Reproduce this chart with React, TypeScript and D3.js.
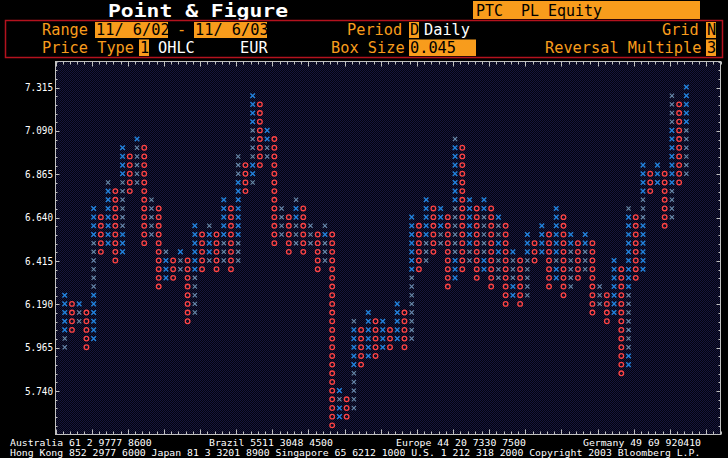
import React from "react";
import * as d3 from "d3";

// ---- data ----
const boxSize = 0.045;
const basePrice = 5.74;
const colHigh = [
  6.235, 6.19, 6.19, 6.145, 6.685, 6.64, 6.82, 6.775, 7.0, 6.955,
  7.045, 7.0, 6.73, 6.685, 6.46, 6.415, 6.46, 6.415, 6.595, 6.55,
  6.595, 6.55, 6.73, 6.685, 6.955, 6.91, 7.27, 7.225, 7.09, 7.045,
  6.685, 6.64, 6.73, 6.685, 6.595, 6.55, 6.595, 6.55, 5.74, 5.695,
  6.1, 6.055, 6.145, 6.1, 6.1, 6.055, 6.19, 6.145, 6.64, 6.595,
  6.73, 6.685, 6.685, 6.64, 7.045, 7.0, 6.73, 6.685, 6.73, 6.685,
  6.64, 6.595, 6.46, 6.415, 6.55, 6.505, 6.595, 6.55, 6.685, 6.64,
  6.55, 6.505, 6.55, 6.505, 6.28, 6.235, 6.415, 6.37, 6.685, 6.64,
  6.91, 6.865, 6.91, 6.865, 7.27, 7.225, 7.315,
];
const colLow = [
  5.965, 6.055, 6.1, 5.965, 6.01, 6.46, 6.505, 6.415, 6.46, 6.775,
  6.82, 6.505, 6.55, 6.28, 6.325, 6.325, 6.37, 6.1, 6.145, 6.37,
  6.415, 6.37, 6.415, 6.37, 6.415, 6.775, 6.82, 6.91, 6.955, 6.505,
  6.55, 6.46, 6.505, 6.46, 6.505, 6.37, 6.415, 5.56, 5.605, 5.605,
  5.65, 5.875, 5.92, 5.92, 5.965, 5.965, 6.01, 5.965, 6.01, 6.37,
  6.415, 6.46, 6.505, 6.28, 6.325, 6.37, 6.415, 6.325, 6.37, 6.28,
  6.325, 6.19, 6.235, 6.19, 6.235, 6.415, 6.46, 6.28, 6.325, 6.235,
  6.28, 6.325, 6.37, 6.145, 6.19, 6.1, 6.145, 5.83, 5.875, 6.325,
  6.37, 6.775, 6.82, 6.595, 6.64, 6.82, 6.865,
];
// X boxes drawn in the paler shade: [column, from price, to price]
const paleX = [
  [0, 5.965, 6.01], [2, 6.1, 6.145], [4, 6.28, 6.505], [6, 6.82, 6.82],
  [8, 6.595, 6.82], [10, 6.82, 7.0], [12, 6.55, 6.73], [14, 6.46, 6.46],
  [16, 6.37, 6.415], [18, 6.145, 6.325], [20, 6.595, 6.595], [20, 6.415, 6.415],
  [22, 6.415, 6.505], [24, 6.865, 6.955], [24, 6.415, 6.505], [26, 6.955, 7.09],
  [26, 6.82, 6.82], [28, 6.955, 7.0], [30, 6.55, 6.685], [32, 6.73, 6.73],
  [32, 6.505, 6.595], [34, 6.505, 6.595], [36, 6.595, 6.595], [36, 6.415, 6.505],
  [38, 5.695, 5.695], [40, 6.1, 6.1], [40, 5.65, 5.83], [48, 6.01, 6.325],
  [50, 6.415, 6.505], [52, 6.505, 6.55], [54, 7.045, 7.045], [54, 6.46, 6.685],
  [56, 6.415, 6.46], [58, 6.46, 6.64], [60, 6.55, 6.595], [60, 6.325, 6.415],
  [62, 6.325, 6.415], [64, 6.235, 6.415], [68, 6.415, 6.415], [70, 6.28, 6.46],
  [72, 6.37, 6.46], [74, 6.19, 6.28], [78, 6.685, 6.685], [78, 5.965, 6.235],
  [80, 6.64, 6.73], [84, 7.135, 7.27], [84, 6.64, 6.775], [86, 6.865, 7.09],
];
const colType = colHigh.map((_, i) => (i % 2 === 0 ? "X" : "O"));
const yTickLabels = ["5.740", "5.965", "6.190", "6.415", "6.640", "6.865", "7.090", "7.315"];
const yDomain = [5.515, 7.45];
const colDomain = [-1, 91];

const headerRow1 = [
  { t: "Range", x: 42, c: "o" },
  { t: "11/ 6/02", x: 96, c: "b", bx: [95, 168] },
  { t: "-", x: 177, c: "o" },
  { t: "11/ 6/03", x: 195, c: "b", bx: [194, 267] },
  { t: "Period", x: 347, c: "o" },
  { t: "D", x: 410, c: "b", bx: [409, 419] },
  { t: "Daily", x: 424, c: "w" },
  { t: "Grid", x: 662, c: "o" },
  { t: "N", x: 707, c: "b", bx: [706, 716] },
];
const headerRow2 = [
  { t: "Price Type", x: 42, c: "o" },
  { t: "1", x: 140, c: "b", bx: [139, 149] },
  { t: "OHLC", x: 158, c: "w" },
  { t: "EUR", x: 240, c: "w" },
  { t: "Box Size", x: 331, c: "o" },
  { t: "0.045", x: 410, c: "b", bx: [409, 476] },
  { t: "Reversal Multiple", x: 545, c: "o" },
  { t: "3", x: 707, c: "b", bx: [706, 716] },
];
const footer1 = [
  { t: "Australia 61 2 9777 8600", x: 10 },
  { t: "Brazil 5511 3048 4500", x: 209 },
  { t: "Europe 44 20 7330 7500", x: 396 },
  { t: "Germany 49 69 920410", x: 583 },
];
const footer2 =
  "Hong Kong 852 2977 6000 Japan 81 3 3201 8900 Singapore 65 6212 1000 U.S. 1 212 318 2000 Copyright 2003 Bloomberg L.P.";

const ORANGE = "#f89c1c";
const MONO = "'DejaVu Sans Mono', monospace";
const XBLUE = "#2282dc";
const XPALE = "#6a8cad";
const ORED = "#ff4444";
const AXIS = "#c0c0c0";

export default function App() {
  const x = d3.scaleLinear().domain(colDomain).range([55.5, 720.5]);
  const y = d3.scaleLinear().domain(yDomain).range([434.5, 61.5]);
  const rowOf = (p: number) => Math.round((p - basePrice) / boxSize);

  const isPale = (i: number, r: number) =>
    paleX.some((d) => d[0] === i && r >= rowOf(d[1]) && r <= rowOf(d[2]));

  const marks: any[] = [];
  colType.forEach((tp, i) => {
    const lo = rowOf(colLow[i]);
    const hi = rowOf(colHigh[i]);
    for (let r = lo; r <= hi; r++) {
      const cx = x(i) + 2;
      const cy = y(basePrice + r * boxSize) - 0.5;
      if (tp === "X") {
        const pale = isPale(i, r);
        const s = pale ? 2.1 : 2.3;
        marks.push(
          <path
            key={`m${i}_${r}`}
            d={`M${cx - s},${cy - s}L${cx + s},${cy + s}M${cx - s},${cy + s}L${cx + s},${cy - s}`}
            stroke={pale ? XPALE : XBLUE}
            strokeWidth={pale ? 1.1 : 1.4}
          />
        );
      } else {
        marks.push(
          <circle key={`m${i}_${r}`} cx={cx} cy={cy} r={2.3} fill="none" stroke={ORED} strokeWidth={1.3} />
        );
      }
    }
  });

  const ticks: any[] = [];
  const rMin = rowOf(yDomain[0]);
  const rMax = rowOf(yDomain[1]);
  for (let r = rMin; r <= rMax; r++) {
    const yy = Math.round(y(basePrice + r * boxSize)) + 0.5;
    const major = r % 5 === 0;
    const len = major ? 4 : 2;
    ticks.push(<line key={`yl${r}`} x1={55.5} x2={55.5 + len} y1={yy} y2={yy} stroke={AXIS} />);
    ticks.push(<line key={`yr${r}`} x1={720.5} x2={720.5 - len} y1={yy} y2={yy} stroke={AXIS} />);
  }
  for (let k = colDomain[0]; k <= colDomain[1]; k++) {
    const xx = Math.round(x(k)) + 0.5;
    const major = (k + 100) % 5 === 4;
    const len = major ? 5 : 3;
    ticks.push(<line key={`xt${k}`} x1={xx} x2={xx} y1={61.5} y2={61.5 + len} stroke={AXIS} />);
    ticks.push(<line key={`xb${k}`} x1={xx} x2={xx} y1={434.5} y2={434.5 - len} stroke={AXIS} />);
  }

  const headerText = (row: any[], base: number, boxTop: number, boxH: number) =>
    row.map((h, i) => (
      <g key={`h${base}_${i}`}>
        {h.bx && <rect x={h.bx[0]} y={boxTop} width={h.bx[1] - h.bx[0]} height={boxH} fill={ORANGE} />}
        <text
          x={h.x}
          y={base}
          fontFamily={MONO}
          fontSize={15}
          textLength={h.t.length * 9.2}
          lengthAdjust="spacingAndGlyphs"
          style={{ whiteSpace: "pre" }}
          fill={h.c === "o" ? ORANGE : h.c === "w" ? "#ffffff" : "#000000"}
        >
          {h.t}
        </text>
      </g>
    ));

  return (
    <svg
      width={728}
      height={458}
      style={{ position: "absolute", left: 0, top: 0, display: "block", background: "#000" }}
    >
      <defs>
        <pattern id="dither" x={0} y={0} width={2} height={2} patternUnits="userSpaceOnUse">
          <rect x={0} y={0} width={2} height={2} fill="#03030f" />
          <rect x={0} y={0} width={1} height={1} fill="#16163c" />
          <rect x={1} y={1} width={1} height={1} fill="#16163c" />
        </pattern>
      </defs>
      <rect x={0} y={0} width={728} height={458} fill="#000" />
      {/* title */}
      <text
        x={108}
        y={17}
        fontFamily={MONO}
        fontWeight="bold"
        fontSize={18}
        textLength={180}
        lengthAdjust="spacingAndGlyphs"
        style={{ whiteSpace: "pre" }}
        fill="#ffffff"
      >
        Point &amp; Figure
      </text>
      <rect x={473} y={1} width={227} height={18} fill={ORANGE} />
      <text
        x={476}
        y={15.5}
        fontFamily={MONO}
        fontSize={15}
        textLength={14 * 9}
        lengthAdjust="spacingAndGlyphs"
        style={{ whiteSpace: "pre" }}
        fill="#000"
      >
        {"PTC  PL Equity"}
      </text>
      <rect x={5.5} y={20.5} width={717} height={37} fill="none" stroke="#b3121e" strokeWidth={1.5} />
      {headerText(headerRow1, 35, 22, 16)}
      {headerText(headerRow2, 53, 39.5, 16.5)}

      {/* plot */}
      <rect x={55.5} y={61.5} width={665} height={373} fill="url(#dither)" />
      {marks}
      <rect x={55.5} y={61.5} width={665} height={373} fill="none" stroke={AXIS} />
      {ticks}
      {yTickLabels.map((t) => (
        <text
          key={t}
          x={53}
          y={y(+t) + 3.5}
          textAnchor="end"
          fontFamily={MONO}
          fontSize={10}
          textLength={28}
          lengthAdjust="spacingAndGlyphs"
          fill="#ffffff"
        >
          {t}
        </text>
      ))}

      {/* footer */}
      {footer1.map((f) => (
        <text
          key={f.t}
          x={f.x}
          y={446}
          fontFamily={MONO}
          fontSize={9.5}
          textLength={f.t.length * 5.9}
          lengthAdjust="spacingAndGlyphs"
          fill="#ffffff"
        >
          {f.t}
        </text>
      ))}
      <text
        x={10}
        y={456}
        fontFamily={MONO}
        fontSize={9.5}
        textLength={footer2.length * 5.9}
        lengthAdjust="spacingAndGlyphs"
        fill="#ffffff"
      >
        {footer2}
      </text>
    </svg>
  );
}
